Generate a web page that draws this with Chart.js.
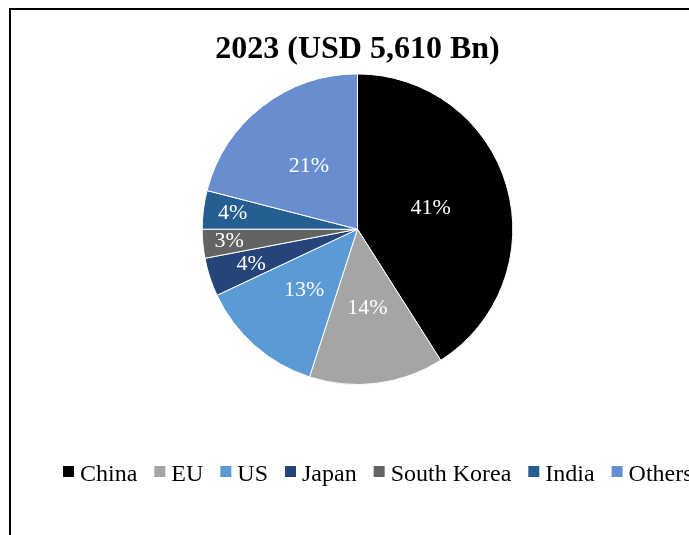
<!DOCTYPE html>
<html lang="en">
<head>
<meta charset="utf-8">
<title>2023 (USD 5,610 Bn)</title>
<script src="https://cdn.jsdelivr.net/npm/chart.js"></script>
<style>
    html, body {
        margin: 0;
        padding: 0;
        background: #ffffff;
        overflow: hidden;
    }
    .frame {
        position: absolute;
        left: 9px;
        top: 8px;
        width: 1000px;
        height: 1000px;
        border: 2px solid #000000;
    }
    #shareChart {
        position: absolute;
        left: 0;
        top: 0;
    }
</style>
</head>
<body>
<div class="frame"></div>
<canvas id="shareChart" width="689" height="535"></canvas>

<script>
// Market share by region, 2023
const chartTitle = "2023 (USD 5,610 Bn)";
const categories = ["China", "EU", "US", "Japan", "South Korea", "India", "Others"];
const shares = [41, 14, 13, 4, 3, 4, 21];
const sliceColors = ["#000000", "#A5A5A5", "#5B9BD5", "#264478", "#636363", "#255E91", "#698ED0"];

const serif = "'Liberation Serif', 'Times New Roman', serif";

// Percentage labels inside each slice
const sliceLabels = {
    id: "sliceLabels",
    afterDatasetsDraw(chart, args, opts) {
        const ctx = chart.ctx;
        const meta = chart.getDatasetMeta(0);
        const values = chart.data.datasets[0].data;
        ctx.save();
        ctx.font = opts.font;
        ctx.fillStyle = opts.color;
        ctx.textAlign = "center";
        ctx.textBaseline = "middle";
        meta.data.forEach((arc, i) => {
            const p = arc.getProps(["x", "y", "startAngle", "endAngle", "outerRadius"], true);
            const mid = (p.startAngle + p.endAngle) / 2;
            const r = p.outerRadius * opts.radius[i];
            ctx.fillText(values[i] + "%", p.x + Math.cos(mid) * r, p.y + Math.sin(mid) * r);
        });
        ctx.restore();
    }
};

// Single-row legend under the pie
const bottomLegend = {
    id: "bottomLegend",
    afterDraw(chart, args, opts) {
        const ctx = chart.ctx;
        const colors = chart.data.datasets[0].backgroundColor;
        ctx.save();
        ctx.font = opts.font;
        ctx.textAlign = "left";
        ctx.textBaseline = "alphabetic";
        let x = opts.left;
        chart.data.labels.forEach((label, i) => {
            ctx.fillStyle = colors[i];
            ctx.fillRect(x, opts.top, opts.boxSize, opts.boxSize);
            x += opts.boxSize + opts.textGap;
            ctx.fillStyle = opts.color;
            ctx.fillText(label, x, opts.baseline);
            x += ctx.measureText(label).width + opts.itemGap;
        });
        ctx.restore();
    }
};

const ctx = document.getElementById("shareChart").getContext("2d");

const shareChart = new Chart(ctx, {
    type: "pie",
    data: {
        labels: categories,
        datasets: [
            {
                data: shares,
                backgroundColor: sliceColors,
                borderColor: "#ffffff",
                borderWidth: 1,
            },
        ],
    },
    options: {
        responsive: false,
        animation: false,
        events: [],
        layout: {
            padding: { left: 40, right: 14, top: 0, bottom: 150 },
        },
        plugins: {
            legend: { display: false },
            tooltip: { enabled: false },
            title: {
                display: true,
                text: chartTitle,
                color: "#000000",
                font: { family: serif, size: 32, weight: "bold" },
                padding: { top: 31, bottom: 4 },
            },
            sliceLabels: {
                font: "22px " + serif,
                color: "#ffffff",
                radius: [0.49, 0.51, 0.52, 0.72, 0.83, 0.81, 0.51],
            },
            bottomLegend: {
                font: "24px " + serif,
                color: "#000000",
                left: 63,
                top: 466,
                baseline: 480.5,
                boxSize: 11,
                textGap: 6,
                itemGap: 17,
            },
        },
    },
    plugins: [sliceLabels, bottomLegend],
});
</script>
</body>
</html>
